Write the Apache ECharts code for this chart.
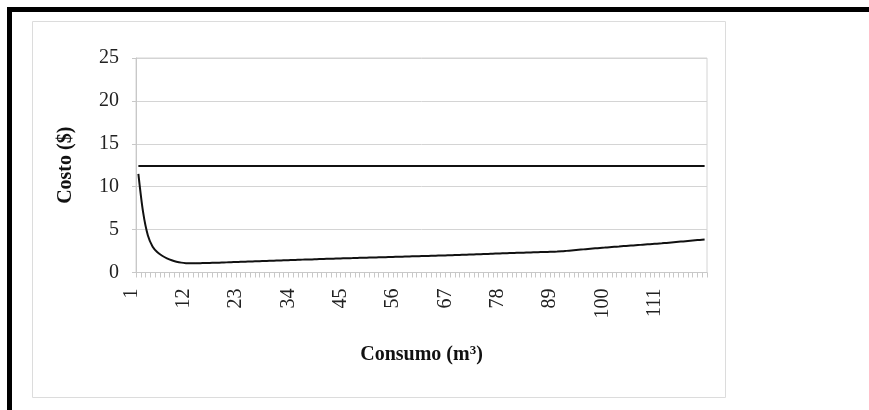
<!DOCTYPE html>
<html>
<head>
<meta charset="utf-8">
<script src="https://cdn.jsdelivr.net/npm/echarts@6/dist/echarts.min.js"></script>
<style>
  html, body { margin: 0; padding: 0; background: #ffffff; }
  #chart { width: 869px; height: 410px; }
</style>
</head>
<body>
<div id="chart"></div>
<script>
// Categories: consumption in m3
const categories = [
  1, 2, 3, 4, 5, 6, 7, 8, 9, 10,
  11, 12, 13, 14, 15, 16, 17, 18, 19, 20,
  21, 22, 23, 24, 25, 26, 27, 28, 29, 30,
  31, 32, 33, 34, 35, 36, 37, 38, 39, 40,
  41, 42, 43, 44, 45, 46, 47, 48, 49, 50,
  51, 52, 53, 54, 55, 56, 57, 58, 59, 60,
  61, 62, 63, 64, 65, 66, 67, 68, 69, 70,
  71, 72, 73, 74, 75, 76, 77, 78, 79, 80,
  81, 82, 83, 84, 85, 86, 87, 88, 89, 90,
  91, 92, 93, 94, 95, 96, 97, 98, 99, 100,
  101, 102, 103, 104, 105, 106, 107, 108, 109, 110,
  111, 112, 113, 114, 115, 116, 117, 118, 119, 120
];

// Flat cost line ($)
const costoFijo = [
  12.4, 12.4, 12.4, 12.4, 12.4, 12.4, 12.4, 12.4, 12.4, 12.4,
  12.4, 12.4, 12.4, 12.4, 12.4, 12.4, 12.4, 12.4, 12.4, 12.4,
  12.4, 12.4, 12.4, 12.4, 12.4, 12.4, 12.4, 12.4, 12.4, 12.4,
  12.4, 12.4, 12.4, 12.4, 12.4, 12.4, 12.4, 12.4, 12.4, 12.4,
  12.4, 12.4, 12.4, 12.4, 12.4, 12.4, 12.4, 12.4, 12.4, 12.4,
  12.4, 12.4, 12.4, 12.4, 12.4, 12.4, 12.4, 12.4, 12.4, 12.4,
  12.4, 12.4, 12.4, 12.4, 12.4, 12.4, 12.4, 12.4, 12.4, 12.4,
  12.4, 12.4, 12.4, 12.4, 12.4, 12.4, 12.4, 12.4, 12.4, 12.4,
  12.4, 12.4, 12.4, 12.4, 12.4, 12.4, 12.4, 12.4, 12.4, 12.4,
  12.4, 12.4, 12.4, 12.4, 12.4, 12.4, 12.4, 12.4, 12.4, 12.4,
  12.4, 12.4, 12.4, 12.4, 12.4, 12.4, 12.4, 12.4, 12.4, 12.4,
  12.4, 12.4, 12.4, 12.4, 12.4, 12.4, 12.4, 12.4, 12.4, 12.4
];

// Variable cost curve ($)
const costoVariable = [
  11.5, 7.0, 4.3, 3.0, 2.35, 1.95, 1.65, 1.42, 1.26, 1.15,
  1.09, 1.07, 1.08, 1.09, 1.1, 1.12, 1.13, 1.15, 1.17, 1.19,
  1.21, 1.23, 1.25, 1.27, 1.29, 1.31, 1.33, 1.35, 1.37, 1.39,
  1.41, 1.43, 1.45, 1.47, 1.49, 1.51, 1.52, 1.54, 1.56, 1.58,
  1.6, 1.61, 1.63, 1.65, 1.67, 1.68, 1.7, 1.71, 1.73, 1.75,
  1.76, 1.78, 1.79, 1.81, 1.83, 1.84, 1.86, 1.87, 1.89, 1.9,
  1.92, 1.93, 1.95, 1.97, 1.98, 2.0, 2.02, 2.04, 2.06, 2.08,
  2.1, 2.12, 2.14, 2.16, 2.18, 2.2, 2.22, 2.24, 2.26, 2.28,
  2.3, 2.31, 2.33, 2.35, 2.37, 2.38, 2.4, 2.42, 2.44, 2.47,
  2.52, 2.57, 2.62, 2.67, 2.72, 2.77, 2.82, 2.86, 2.9, 2.95,
  2.99, 3.03, 3.08, 3.12, 3.16, 3.2, 3.24, 3.28, 3.32, 3.36,
  3.4, 3.45, 3.5, 3.55, 3.6, 3.65, 3.7, 3.75, 3.8, 3.85
];

const yTicks = [0, 5, 10, 15, 20, 25];

const serif = "'Liberation Serif', 'Times New Roman', 'DejaVu Serif', serif";

const chart = echarts.init(document.getElementById('chart'), null, { renderer: 'canvas' });

chart.setOption({
  backgroundColor: '#ffffff',
  animation: false,
  graphic: [
    { type: 'rect', left: 30, top: 19, shape: { width: 693, height: 376 },
      style: { fill: 'none', stroke: '#dcdcdc', lineWidth: 1 }, silent: true },
    { type: 'rect', left: 7, top: 7, shape: { width: 862, height: 5 },
      style: { fill: '#000000' }, silent: true },
    { type: 'rect', left: 7, top: 7, shape: { width: 5, height: 403 },
      style: { fill: '#000000' }, silent: true }
  ],
  grid: {
    left: 136, top: 58, right: 162, bottom: 137.5,
    show: true, borderColor: '#d4d4d4', borderWidth: 1,
    containLabel: false
  },
  xAxis: {
    type: 'category',
    data: categories,
    boundaryGap: true,
    name: '{a|Consumo (m}{b|3}{a|)}',
    nameLocation: 'middle',
    nameGap: 72,
    nameTextStyle: {
      fontFamily: serif, fontWeight: 'bold', fontSize: 20, color: '#111',
      rich: {
        a: { fontFamily: serif, fontWeight: 'bold', fontSize: 20, color: '#111' },
        b: { fontFamily: serif, fontWeight: 'bold', fontSize: 13, color: '#111', verticalAlign: 'top' }
      }
    },
    axisLine: { show: true, lineStyle: { color: '#c8c8c8', width: 1 } },
    axisTick: { show: true, interval: 0, length: 5, lineStyle: { color: '#c8c8c8' } },
    axisLabel: {
      interval: 10,
      rotate: 90,
      margin: 16,
      verticalAlign: 'bottom',
      lineHeight: 14,
      fontFamily: serif, fontSize: 20, color: '#222'
    },
    splitLine: { show: false }
  },
  yAxis: {
    type: 'value',
    min: 0, max: 25, interval: 5,
    name: 'Costo ($)',
    nameLocation: 'middle',
    nameGap: 60,
    nameTextStyle: { fontFamily: serif, fontWeight: 'bold', fontSize: 20, color: '#111' },
    axisLine: { show: true, lineStyle: { color: '#c8c8c8', width: 1 } },
    axisTick: { show: true, length: 4, lineStyle: { color: '#c8c8c8' } },
    axisLabel: {
      margin: 17,
      fontFamily: serif, fontSize: 20, color: '#222',
      formatter: function (v) { return yTicks.indexOf(v) >= 0 ? String(v) : ''; }
    },
    splitLine: { show: true, lineStyle: { color: '#d4d4d4', width: 1 } }
  },
  series: [
    {
      type: 'line',
      data: costoFijo,
      showSymbol: false,
      symbol: 'none',
      lineStyle: { color: '#111111', width: 2 }
    },
    {
      type: 'line',
      data: costoVariable,
      showSymbol: false,
      symbol: 'none',
      smooth: 0.3,
      lineStyle: { color: '#111111', width: 2 }
    }
  ]
});
</script>
</body>
</html>
